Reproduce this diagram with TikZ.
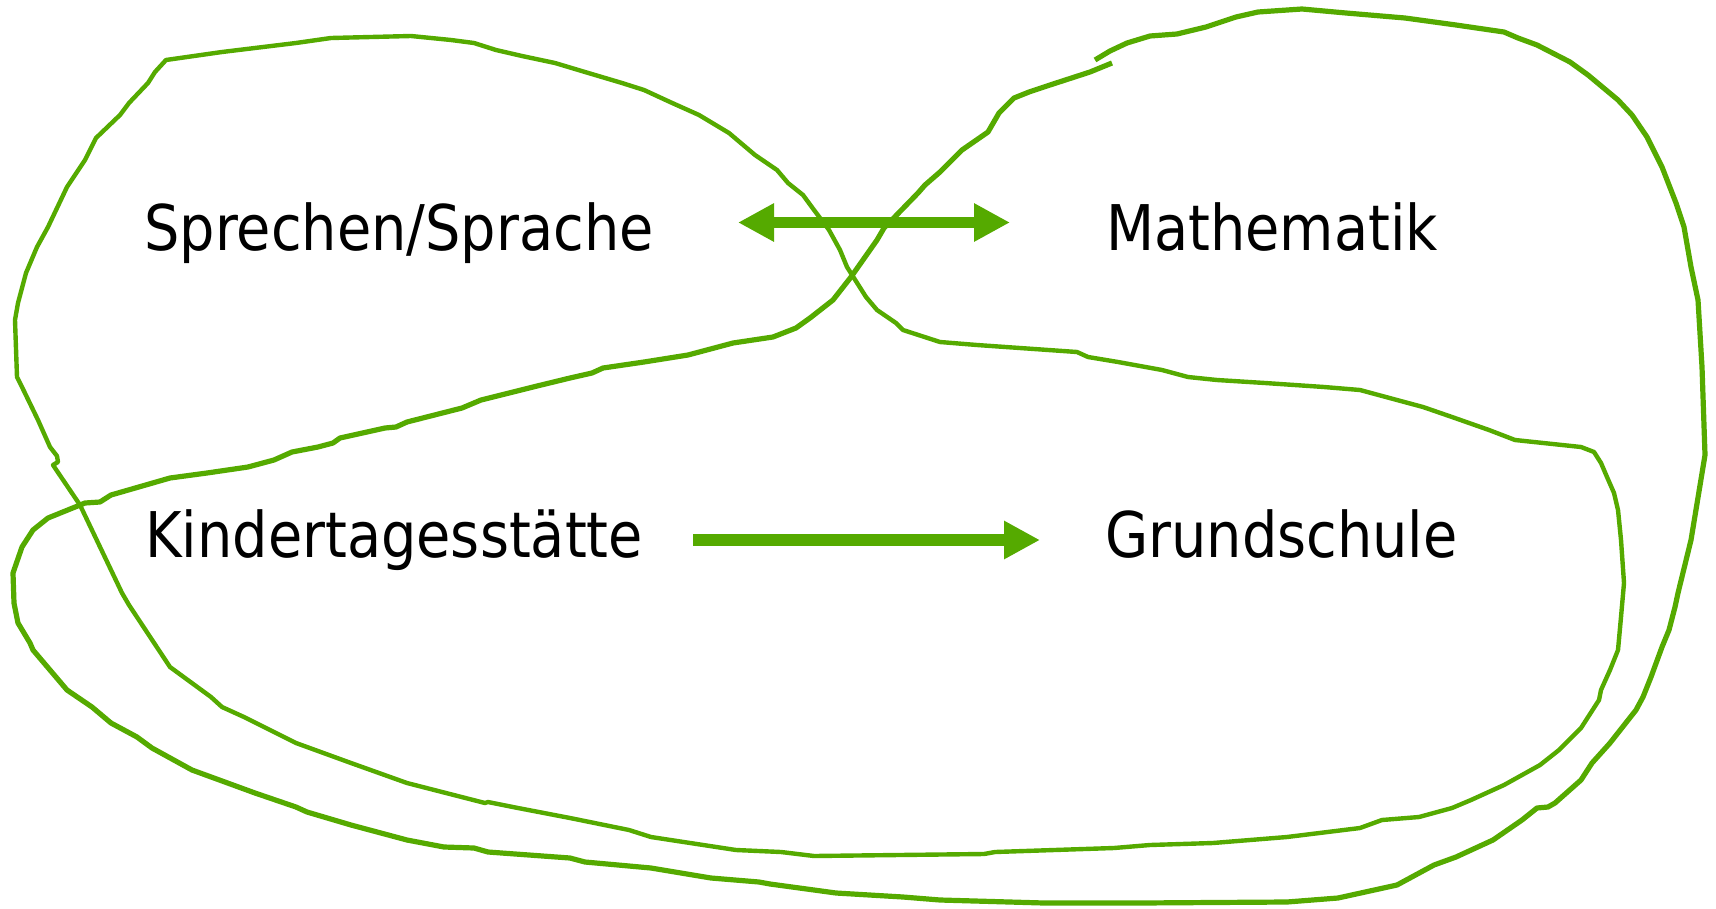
\documentclass[tikz,border=0pt]{standalone}
\usepackage{fontspec}
\setmainfont{DejaVu Sans}[FakeStretch=0.885]
\usetikzlibrary{arrows.meta}
\definecolor{leaf}{RGB}{85,170,0}
\begin{document}
\begin{tikzpicture}[x=1pt,y=-1pt,
  loopa/.style={draw=leaf, line width=4.4pt, line join=round},
  loopb/.style={draw=leaf, line width=5.2pt, line join=round},
  txt/.style={font=\fontsize{63}{70}\selectfont, inner sep=0pt, anchor=base west},
  fat/.style={draw=leaf, line width=11.6pt, -{Triangle[length=36pt,width=36pt]}},
  fatboth/.style={draw=leaf, line width=11.6pt, {Triangle[length=36pt,width=36pt]}-{Triangle[length=36pt,width=36pt]}}]
\useasboundingbox (0,0) rectangle (1716,908);

% first loop: Sprechen/Sprache above, Grundschule below
\draw[loopa] (166,60) -- (222,52) -- (296,43) -- (331,38) -- (411,36) -- (451,40)
  -- (474,43) -- (496,50) -- (522,56) -- (555,63) -- (585,72) -- (622,83) -- (644,90)
  -- (670,102) -- (699,115) -- (729,133) -- (755,155) -- (777,170) -- (788,183)
  -- (803,195) -- (814,210) -- (829,230) -- (840,250) -- (847,267) -- (866,297)
  -- (877,310) -- (896,323) -- (903,330) -- (940,342) -- (977,345) -- (1077,352)
  -- (1088,357) -- (1118,362) -- (1162,370) -- (1188,377) -- (1217,380) -- (1265,383)
  -- (1324,387) -- (1360,390) -- (1397,400) -- (1423,407) -- (1452,417) -- (1489,430)
  -- (1515,440) -- (1581,447) -- (1594,452) -- (1601,463) -- (1607,477) -- (1614,493)
  -- (1618,510) -- (1621,540) -- (1624,583) -- (1621,617) -- (1618,650) -- (1610,670)
  -- (1601,690) -- (1599,700) -- (1581,728) -- (1559,750) -- (1540,765) -- (1504,785)
  -- (1471,800) -- (1452,808) -- (1419,817) -- (1382,820) -- (1360,828) -- (1287,837)
  -- (1213,843) -- (1150,845) -- (1114,848) -- (995,852) -- (984,854) -- (814,856)
  -- (781,852) -- (736,850) -- (651,837) -- (629,830) -- (570,818) -- (518,808)
  -- (488,802) -- (485,803) -- (407,783) -- (351,763) -- (296,743) -- (244,717)
  -- (222,707) -- (211,697) -- (170,667) -- (129,605) -- (122,593) -- (80,505)
  -- (55,468) -- (53,465) -- (58,462) -- (57,456) -- (50,447) -- (38,420) -- (22,387)
  -- (17,377) -- (15,320) -- (18,303) -- (26,273) -- (37,247) -- (48,227) -- (67,187)
  -- (85,160) -- (96,138) -- (120,115) -- (129,103) -- (148,83) -- (155,72) -- cycle;

% second loop: Mathematik above, Kindertagesstaette below
\draw[loopb] (1112,63) -- (1090,72) -- (1050,85) -- (1029,92) -- (1014,98) -- (999,113)
  -- (988,132) -- (962,150) -- (940,172) -- (925,185) -- (918,193) -- (884,228)
  -- (877,240) -- (851,277) -- (833,300) -- (810,318) -- (796,328) -- (773,337)
  -- (733,343) -- (688,355) -- (644,362) -- (603,368) -- (592,373) -- (570,378)
  -- (533,387) -- (481,400) -- (462,408) -- (407,422) -- (396,427) -- (385,428)
  -- (340,438) -- (333,443) -- (318,447) -- (292,452) -- (274,460) -- (248,467)
  -- (207,473) -- (170,478) -- (111,495) -- (100,502) -- (85,503) -- (48,518)
  -- (33,530) -- (22,547) -- (13,573) -- (14,603) -- (18,623) -- (30,643) -- (33,650)
  -- (67,690) -- (92,707) -- (111,723) -- (137,737) -- (152,748) -- (192,770)
  -- (255,793) -- (296,807) -- (307,812) -- (351,825) -- (407,840) -- (444,847)
  -- (474,848) -- (488,852) -- (570,858) -- (585,862) -- (651,868) -- (711,878)
  -- (759,882) -- (770,884) -- (836,893) -- (903,897) -- (940,900) -- (1044,903)
  -- (1140,903) -- (1287,902) -- (1338,898) -- (1397,885) -- (1434,865) -- (1456,857)
  -- (1493,840) -- (1522,820) -- (1537,808) -- (1548,807) -- (1555,803) -- (1581,780)
  -- (1592,763) -- (1610,743) -- (1636,710) -- (1643,697) -- (1651,677) -- (1662,647)
  -- (1669,630) -- (1675,607) -- (1678,593) -- (1691,540) -- (1705,455) -- (1702,367)
  -- (1698,300) -- (1691,267) -- (1684,227) -- (1676,203) -- (1662,167) -- (1647,137)
  -- (1632,115) -- (1618,100) -- (1588,75) -- (1570,62) -- (1537,45) -- (1518,38)
  -- (1504,32) -- (1456,25) -- (1405,18) -- (1346,13) -- (1302,9) -- (1258,12)
  -- (1236,17) -- (1206,27) -- (1177,34) -- (1150,36) -- (1127,43) -- (1110,51)
  -- (1095,60);

% labels
\node[txt] (sp) at (144,250) {Sprechen/Sprache};
\node[txt] (ma) at (1106,250) {Mathematik};
\node[txt] (ki) at (145,557) {Kindertagesstätte};
\node[txt] (gs) at (1105,557) {Grundschule};

% connectors
\draw[fatboth] ([shift={(594,-27.5)}]sp.base west) -- ([shift={(-96,-27.5)}]ma.base west);
\draw[fat] ([shift={(548,-17)}]ki.base west) -- ([shift={(-65,-17)}]gs.base west);
\end{tikzpicture}
\end{document}
